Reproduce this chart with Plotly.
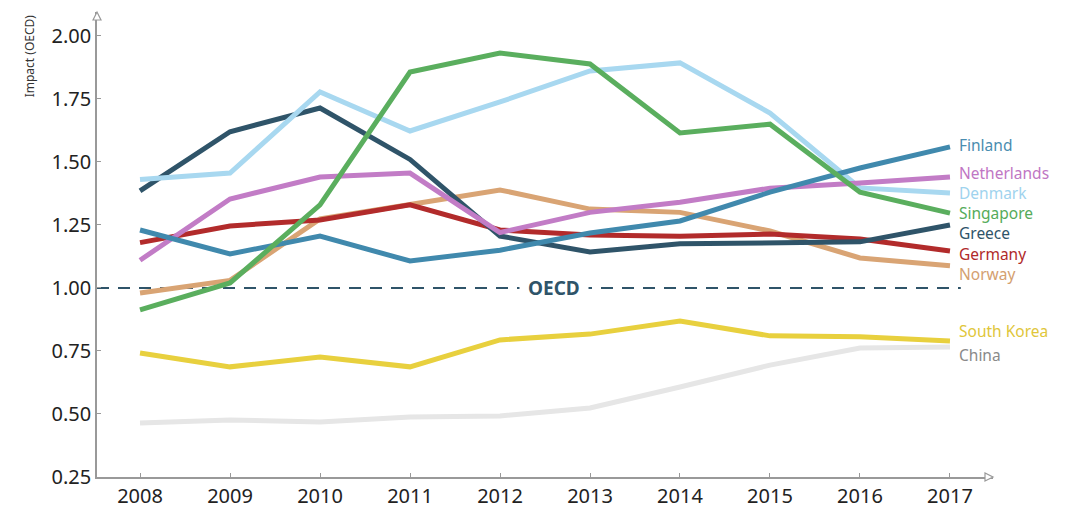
import plotly.graph_objects as go

years = [2008, 2009, 2010, 2011, 2012, 2013, 2014, 2015, 2016, 2017]

china = [0.464, 0.476, 0.468, 0.488, 0.492, 0.524, 0.607, 0.694, 0.762, 0.766]
south_korea = [0.742, 0.687, 0.726, 0.687, 0.794, 0.817, 0.869, 0.810, 0.806, 0.790]
norway = [0.980, 1.030, 1.274, 1.333, 1.389, 1.313, 1.300, 1.226, 1.119, 1.088]
germany = [1.180, 1.246, 1.270, 1.330, 1.230, 1.210, 1.205, 1.214, 1.194, 1.147]
greece = [1.385, 1.620, 1.714, 1.510, 1.206, 1.143, 1.175, 1.178, 1.183, 1.250]
denmark = [1.430, 1.456, 1.778, 1.623, 1.738, 1.861, 1.893, 1.694, 1.397, 1.377]
netherlands = [1.110, 1.353, 1.440, 1.456, 1.220, 1.300, 1.340, 1.396, 1.417, 1.440]
finland = [1.230, 1.135, 1.206, 1.107, 1.150, 1.218, 1.266, 1.380, 1.476, 1.560]
singapore = [0.913, 1.020, 1.330, 1.857, 1.932, 1.889, 1.615, 1.650, 1.380, 1.297]

oecd_level = 1.0
y_ticks = [0.25, 0.50, 0.75, 1.00, 1.25, 1.50, 1.75, 2.00]

series = [
    ("China", china, "#e6e6e6", "#8a8a8a", 355),
    ("South Korea", south_korea, "#e8d03e", "#e0c63a", 331),
    ("Norway", norway, "#d9a474", "#d4a070", 274),
    ("Germany", germany, "#b22b2b", "#b02a2a", 253.5),
    ("Greece", greece, "#2f5469", "#2f5469", 233),
    ("Denmark", denmark, "#a8d8f0", "#9fd3ee", 193),
    ("Netherlands", netherlands, "#c27cc6", "#bf76c4", 173),
    ("Finland", finland, "#4089ad", "#4a8db0", 145),
    ("Singapore", singapore, "#5aae5e", "#55ab5a", 212.5),
]

FONT = "Noto Sans"
fig = go.Figure()

# OECD reference line
fig.add_trace(go.Scatter(
    x=[2007.522, 2017.12], y=[oecd_level, oecd_level], mode="lines",
    line=dict(color="#2f5469", width=2, dash="12px,9px"),
    hoverinfo="skip", showlegend=False))

for name, vals, col, lcol, ypix in series:
    fig.add_trace(go.Scatter(x=years, y=vals, mode="lines", name=name,
                             line=dict(color=col, width=5), showlegend=False))

# plot geometry (page body has an 8px margin)
W, HT = 1071, 500
L, T, B, R = 89, 4, 31, 86
H = HT - T - B
y0, y1 = 0.25, 2.095

def px_to_val(py):
    return y1 - (py - 8 - T) / H * (y1 - y0)

for name, vals, col, lcol, ypix in series:
    fig.add_annotation(x=2017, y=px_to_val(ypix), xref="x", yref="y",
                       text=name, showarrow=False, xanchor="left", xshift=8,
                       borderpad=0,
                       font=dict(family=FONT, size=15.5, color=lcol))

fig.add_annotation(x=2012.6, y=oecd_level, xref="x", yref="y", text="<b>OECD</b>",
                   showarrow=False, bgcolor="white", borderpad=8,
                   font=dict(family=FONT, size=19, color="#2f5469"))

fig.add_annotation(x=-0.075, y=1.0, xref="paper", yref="paper", text="Impact (OECD)",
                   textangle=-90, showarrow=False, xanchor="center", yanchor="top",
                   font=dict(family=FONT, size=12, color="#333"))

# axis arrows (open triangles)
fig.add_shape(type="path", xref="paper", yref="paper", xsizemode="pixel", ysizemode="pixel",
              xanchor=0, yanchor=1, path="M -4,-8 L 0,0 L 4,-8 Z",
              line=dict(color="#999", width=1.2), fillcolor="white")
fig.add_shape(type="path", xref="paper", yref="paper", xsizemode="pixel", ysizemode="pixel",
              xanchor=1, yanchor=0, path="M -8,-4 L 0,0 L -8,4 Z",
              line=dict(color="#999", width=1.2), fillcolor="white")

fig.update_layout(
    width=W, height=HT,
    margin=dict(l=L, r=R, t=T, b=B, autoexpand=False),
    plot_bgcolor="white", paper_bgcolor="white",
    font=dict(family=FONT, color="#333"),
    xaxis=dict(range=[2007.522, 2017.478], tickmode="array", tickvals=years,
               ticktext=[str(y) for y in years], showgrid=False, zeroline=False,
               showline=True, linecolor="#999", linewidth=1.5, automargin=False,
               ticks="inside", ticklen=4, tickcolor="#999",
               tickfont=dict(family=FONT, size=20, color="#222")),
    yaxis=dict(range=[y0, y1], tickmode="array", tickvals=y_ticks,
               ticktext=[f"{v:.2f}" for v in y_ticks], showgrid=False, zeroline=False,
               showline=True, linecolor="#999", linewidth=1.5, automargin=False,
               ticks="inside", ticklen=4, tickcolor="#999",
               tickfont=dict(family=FONT, size=20, color="#222")),
)

fig.write_html("out.html")
